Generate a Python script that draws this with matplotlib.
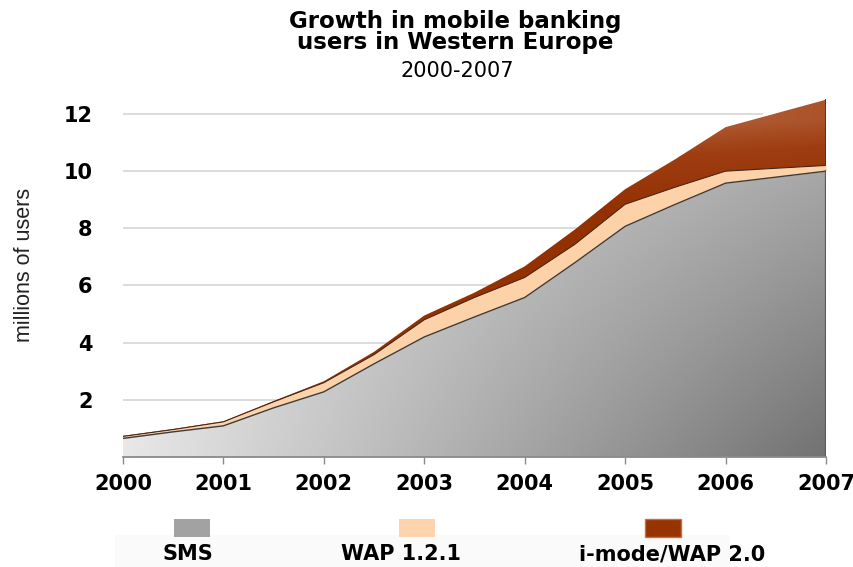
import numpy as np
import matplotlib
matplotlib.use("Agg")
import matplotlib.pyplot as plt
from matplotlib.colors import LinearSegmentedColormap
from matplotlib.patches import Rectangle

# mobile banking users, millions (half-year readings)
years = [2000, 2000.5, 2001, 2001.5, 2002, 2002.5, 2003, 2003.5,
         2004, 2004.5, 2005, 2005.5, 2006, 2007]
sms = [0.65, 0.88, 1.09, 1.72, 2.28, 3.26, 4.20, 4.90,
       5.58, 6.80, 8.07, 8.84, 9.58, 10.00]
wap = [0.07, 0.08, 0.14, 0.21, 0.32, 0.32, 0.60, 0.68,
       0.70, 0.64, 0.77, 0.60, 0.42, 0.20]
imode = [0.02, 0.02, 0.02, 0.03, 0.05, 0.10, 0.15, 0.17,
         0.39, 0.52, 0.53, 0.98, 1.54, 2.30]

year_ticks = [2000, 2001, 2002, 2003, 2004, 2005, 2006, 2007]
user_ticks = [2, 4, 6, 8, 10, 12]
series_names = ["SMS", "WAP 1.2.1", "i-mode/WAP 2.0"]

x = np.array(years)
sms_top = np.array(sms)
wap_top = sms_top + np.array(wap)
imode_top = wap_top + np.array(imode)

W, H = 854, 567
fig = plt.figure(figsize=(W / 100, H / 100), dpi=100)
ax = fig.add_axes([123 / W, 110 / H, 703 / W, 371.6 / H])
ax.set_xlim(2000, 2007)
ax.set_ylim(0, 13)

# light grid behind the areas
ax.hlines(user_ticks, 2000, 2006.37, color="#d2d2d2", lw=1.1, zorder=1)


def gradient_area(lo, hi, values, cmap, z):
    poly = ax.fill_between(x, lo, hi, facecolor="none", edgecolor="none", zorder=z)
    im = ax.imshow(values, extent=[2000, 2007, 0, 13], origin="lower",
                   aspect="auto", cmap=cmap, vmin=0, vmax=1, zorder=z,
                   interpolation="bilinear")
    im.set_clip_path(poly.get_paths()[0], transform=ax.transData)


gx, gy = np.meshgrid(np.linspace(0, 1, 400), np.linspace(0, 13, 300))

# SMS: grey shading, light at the left, dark towards the lower right
sms_cmap = LinearSegmentedColormap.from_list("sms", ["#e8e8e8", "#727272"])
gradient_area(0, sms_top, gx * (1 - 0.045 * gy), sms_cmap, 2)

# WAP 1.2.1: flat peach band
ax.fill_between(x, sms_top, wap_top, color="#fed2a9", lw=0, zorder=3)

# i-mode: brown, lighter near the upper edge
brown_cmap = LinearSegmentedColormap.from_list("imode", ["#933100", "#9e3d12", "#bf7550"])
shade = np.clip((gy - 8.6) / 3.2, 0, 1) * np.clip(1.25 - 0.55 * gx, 0, 1)
gradient_area(wap_top, imode_top, shade, brown_cmap, 4)

ax.plot(x, sms_top, color="#3c3c3c", lw=1.0, zorder=5)
ax.plot(x, wap_top, color="#4a2410", lw=0.8, zorder=5)
ax.plot([x[-1], x[-1]], [0, sms_top[-1]], color="#5a5a5a", lw=1.6, zorder=5)
ax.plot([x[-1], x[-1]], [wap_top[-1], imode_top[-1]], color="#7a2800", lw=1.4, zorder=5)

for side in ["top", "right", "left"]:
    ax.spines[side].set_visible(False)
ax.spines["bottom"].set_color("#8a8a8a")
ax.spines["bottom"].set_linewidth(1.3)
ax.spines["bottom"].set_zorder(6)

ax.set_xticks(year_ticks)
ax.set_xticklabels([str(y) for y in year_ticks], fontsize=15, fontweight="bold")
ax.tick_params(axis="x", length=5, width=1, color="#8a8a8a", pad=7)
ax.set_yticks(user_ticks)
ax.set_yticklabels([str(v) for v in user_ticks], fontsize=15, fontweight="bold")
ax.tick_params(axis="y", length=0, pad=22)

fig.text(25 / W, 1 - 265 / H, "millions of users", rotation=90, ha="center", va="center",
         fontsize=15.5, family=["Liberation Sans Narrow", "Liberation Sans"], color="#222222")

# title block, one line at a time
fig.text(455 / W, 1 - 28 / H, "Growth in mobile banking", ha="center", va="baseline",
         fontsize=16.5, fontweight="bold")
fig.text(455 / W, 1 - 49 / H, "users in Western Europe", ha="center", va="baseline",
         fontsize=16.5, fontweight="bold")
fig.text(457 / W, 1 - 77 / H, "2000-2007", ha="center", va="baseline", fontsize=15)

# legend row
fig.add_artist(Rectangle((115 / W, 0), 615 / W, 32 / H, transform=fig.transFigure,
                         facecolor="#fafafa", edgecolor="none", zorder=0))
swatch_x = [192, 417, 663]
label_x = [188, 401, 672]
swatch_colors = ["#a2a2a2", "#fed3ae", "#973300"]
for sx, lx, c, name in zip(swatch_x, label_x, swatch_colors, series_names):
    fig.add_artist(Rectangle(((sx - 18) / W, 1 - 537 / H), 36 / W, 18 / H,
                             transform=fig.transFigure, facecolor=c,
                             edgecolor="#c7714a" if c == "#973300" else "none", lw=1))
    fig.text(lx / W, 1 - 554 / H, name, ha="center", va="center",
             fontsize=15, fontweight="bold")

fig.savefig("out.png", dpi=100)
